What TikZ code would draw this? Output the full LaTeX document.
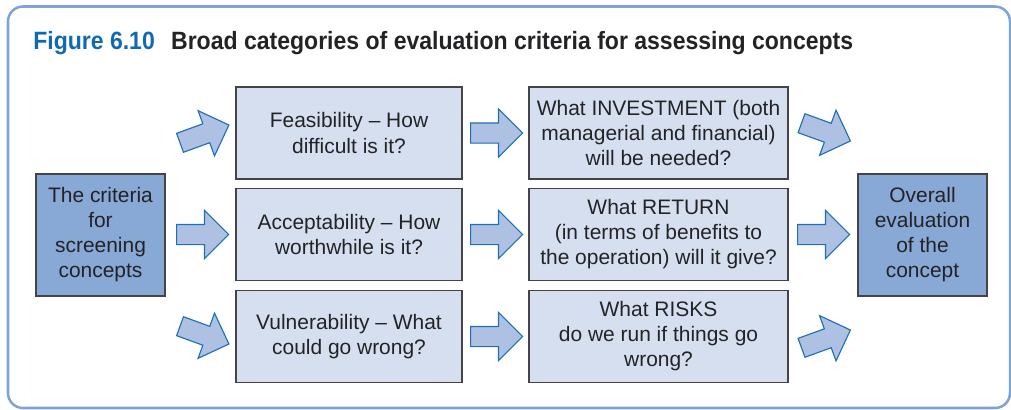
\documentclass[tikz,border=0pt]{standalone}
\usepackage{fontspec}
\setmainfont{Liberation Sans}
\newfontfamily\headfont[FakeStretch=0.92]{Liberation Sans}
\definecolor{rim}{RGB}{127,163,216}
\definecolor{headblue}{RGB}{16,106,178}
\definecolor{ink}{RGB}{35,35,38}
\definecolor{deep}{RGB}{136,168,214}
\definecolor{pale}{RGB}{214,223,240}
\definecolor{arrowfill}{RGB}{174,193,226}
\definecolor{arrowline}{RGB}{30,110,185}
\usetikzlibrary{shapes.arrows,calc}

\begin{document}
\begin{tikzpicture}[x=0.025cm, y=-0.025cm,
    box/.style={draw=ink!85, line width=0.9pt, text=ink, align=center, inner sep=0pt,
      font=\fontsize{14.9}{17.8}\selectfont},
    endbox/.style={box, fill=deep, minimum width=3.225cm, minimum height=3.05cm},
    askbox/.style={box, fill=pale, minimum height=2.3cm},
    blockarrow/.style={single arrow, draw=arrowline, fill=arrowfill, line width=0.8pt,
      inner xsep=0pt, inner ysep=0.2375cm, minimum height=1.3cm, anchor=tail,
      single arrow head extend=0.35cm, single arrow tip angle=90}]
        \useasboundingbox (0,0) rectangle (1011,409);
        \draw[rim, line width=1.8pt, rounded corners=0.375cm] (8,6.5) rectangle (1010,408);
        \node[anchor=base west, inner sep=0pt, font=\headfont\bfseries\fontsize{17.8}{20}\selectfont] (head) at (33,49)
          {\textcolor{headblue}{Figure 6.10}\hspace{0.65em}\textcolor{ink}{Broad categories of evaluation criteria for assessing concepts}};
        % outer boxes
        \node[endbox] (crit) at (100.5,235) {The criteria\\for\\screening\\concepts};
        \node[endbox] (overall) at (922.5,235) {Overall\\evaluation\\of the\\concept};
        % criteria column
        \node[askbox, minimum width=5.65cm] (feas) at (349,133) {Feasibility -- How\\difficult is it?};
        \node[askbox, minimum width=5.65cm] (accept) at (349,234.5) {Acceptability -- How\\worthwhile is it?};
        \node[askbox, minimum width=5.65cm] (vuln) at (349,336.5) {Vulnerability -- What\\could go wrong?};
        % question column
        \node[askbox, minimum width=6.475cm] (invest) at (658.5,133) {What INVESTMENT (both\\managerial and financial)\\will be needed?};
        \node[askbox, minimum width=6.475cm] (return) at (658.5,234.5) {What RETURN\\(in terms of benefits to\\the operation) will it give?};
        \node[askbox, minimum width=6.475cm] (risks) at (658.5,336.5) {What RISKS\\do we run if things go\\wrong?};
        % block arrows (placed by their tails)
        \node[blockarrow, rotate=20] (toFeas) at (179.5,143) {};
        \node[blockarrow] (toAccept) at (accept.west -| 176,0) {};
        \node[blockarrow, rotate=-20] (toVuln) at (179.5,326) {};
        \node[blockarrow] (toInvest) at (feas.east -| 470,0) {};
        \node[blockarrow] (toReturn) at (accept.east -| 470,0) {};
        \node[blockarrow] (toRisks) at (vuln.east -| 470,0) {};
        \node[blockarrow, rotate=-20] (fromInvest) at (801,123) {};
        \node[blockarrow] (fromReturn) at (return.east -| 797,0) {};
        \node[blockarrow, rotate=20] (fromRisks) at (801,348) {};
      \end{tikzpicture}
\end{document}
